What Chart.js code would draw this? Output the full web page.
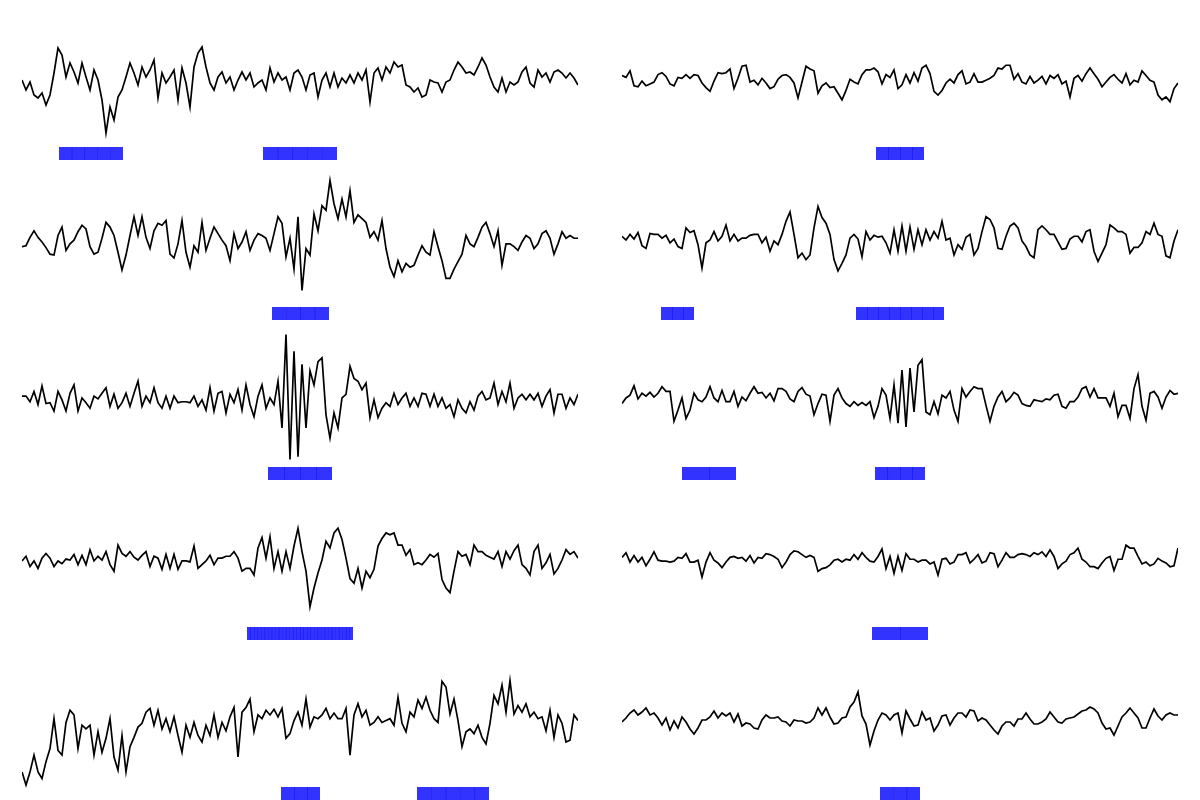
<!DOCTYPE html>
<html>
<head>
<meta charset="utf-8">
<script src="https://cdn.jsdelivr.net/npm/chart.js@4.4.1/dist/chart.umd.min.js"></script>
<style>
html,body{margin:0;padding:0;background:#ffffff;}
#wrap{position:relative;width:1200px;height:800px;background:#ffffff;}
#wrap canvas{position:absolute;}
</style>
</head>
<body>
<div id="wrap"></div>
<script>
// ---- signal traces (one value per sample) ----
const traceL1 = [0,-10,-2,-15,-18,-13,-25,-15,7,32, 25,3,17,8,-3,17,3,-10,10,0, -20,-53,-27,-40,-17,-10,3,17,7,-5, 13,3,10,20,-18,7,-3,3,10,-20, 12,-3,-27,13,27,33,13,-3,-10,3, 8,-3,3,-10,0,8,0,7,-7,-3, 0,-10,12,-2,7,0,3,-10,7,10,
  3,-10,5,7,-17,0,7,-7,7,-7, 2,-3,5,-3,7,0,10,-22,7,12, 0,13,7,18,13,15,-5,-7,-12,-8, -17,-15,0,-2,-3,-12,-2,0,10,18, 13,7,8,5,13,22,15,3,-7,-12, 2,-12,-2,-5,-2,8,13,-3,-7,10, 3,7,-2,8,10,7,2,7,2,-5];
const traceL2 = [-12,-11,-2,5,-2,-7,-13,-20,-21,0, 9,-16,-9,-5,4,11,7,-12,-20,-18, -3,14,9,0,-18,-37,-21,0,20,0, 20,-2,-14,5,13,11,16,-20,-24,-9, 16,-18,-34,-11,-18,14,-16,-3,9,2, -5,-11,-27,2,-14,-7,4,-16,-5,2, 0,-3,-16,2,20,13,-23,-3,-36,20, -59,-14,-21,23,5,32,27,59,34,18, 39,20,48,14,22,18,14,-2,4,-5, 16,-14,-34,-44,-27,-39,-30,-34,-32,-21, -11,-18,-21,4,-12,-27,-46,-46,-36,-28, -20,0,-9,-12,-2,9,14,2,-12,5, -32,-9,-9,-12,-16,-7,0,-3,-14,-9, 2,5,-3,-20,-9,4,-3,0,-3,-3];
const traceL3 = [-1,-1,-7,4,-10,10,-9,-8,-17,4, -5,-17,2,11,-17,-3,-8,-14,-1,-4, 2,8,-12,1,-14,-8,2,-12,2,15, -12,-1,-8,8,-8,-14,-1,-14,-1,-8, -7,-7,-8,-1,-12,-5,-16,8,-17,2, 4,-19,1,-8,6,-16,11,-10,-23,-1, 11,-14,-3,-10,15,-35,65,-69,47,-66, 33,-35,26,11,36,40,-21,-46,-19,-35, -3,1,31,18,15,6,13,-24,-5,-24, -14,-8,-12,2,-10,-3,2,-12,-3,-12, 2,1,-12,1,-12,-3,-14,-10,-23,-5, -14,-19,-7,-16,-1,4,-5,-3,13,-10, 4,-7,13,-14,-3,1,-5,1,-5,2, -12,-1,6,-19,1,1,-14,-3,-10,1];
const traceL4 = [-4,1,-10,-4,-12,-1,4,-1,-10,-4, -7,-2,-3,3,-8,2,-8,8,-4,1, -3,6,-8,-15,13,4,1,6,0,-3, 2,6,-10,1,-1,-13,3,-12,3,-13, -4,-4,-5,12,-12,-8,-4,2,-8,-1, -1,1,1,6,-1,-15,-12,-12,-19,10, 21,-1,22,-12,6,-15,6,-12,12,31, 6,-15,-53,-33,-17,-3,17,10,26,31, 19,-1,-23,-28,-12,-33,-15,-22,-13,12, 20,26,24,26,13,13,2,8,-8,-6, -8,-3,3,0,4,-24,-33,-38,-15,6, 1,3,-8,13,6,6,2,0,-2,6, -10,6,-2,7,13,-8,-12,-19,6,13, -12,-6,3,-18,-12,-3,8,3,6,-1];
const traceL5 = [-59,-73,-59,-41,-59,-66,-48,-34,-2,-36, -41,-6,7,2,-34,-9,-13,-9,-41,-16, -38,-23,-2,-43,-57,-20,-59,-32,-22,-11, -7,5,9,-9,7,-13,-2,-16,0,-20, -38,-9,-22,-6,-20,-27,-9,-20,2,-22, -6,-15,0,10,-43,5,10,19,-16,2, -2,7,2,8,0,9,-23,-18,-4,5, -9,19,-11,0,-2,2,9,-2,4,-2, -2,9,-41,2,14,0,7,-9,-6,0, -6,-4,-2,-9,21,-7,-16,5,0,18, 9,21,7,-2,-6,38,32,3,19,-4, -32,-16,-13,-18,-9,-22,-29,-7,23,14, 34,5,39,3,12,5,14,0,5,-2, 0,-15,7,-22,2,-7,-27,-25,2,-4];
const traceR1 = [3,1,8,-8,-9,-3,-8,-6,-4,4, 6,2,-6,-8,1,0,4,0,4,3, -5,-10,-14,-3,6,5,6,10,-11,0, 13,14,-4,-2,-7,0,-5,-11,-9,-1, 3,4,1,-5,-21,-4,13,10,8,-16, -8,-5,-10,-9,-16,-23,-13,-1,-4,-6, 4,9,9,11,7,-6,4,1,9,-11, -7,4,-5,6,-3,11,14,5,-14,-18, -13,-5,-1,-5,4,8,-6,-4,5,-4, -4,-2,0,3,11,10,14,14,-1,5, -4,-6,2,-5,-2,2,-6,3,0,4, -6,-3,-20,0,3,-3,5,11,5,-1, -9,-4,1,4,-1,-5,5,-7,-2,-4, 8,3,-2,-4,-18,-23,-20,-25,-11,-5];
const traceR2 = [1,-3,3,-2,5,-9,-12,4,3,3, -1,2,-6,-2,-10,-12,10,5,7,-8, -33,-6,-3,6,-4,1,13,-4,3,-4, -1,-1,2,3,3,-6,0,-15,-4,-8, 3,17,27,3,-22,-17,-24,-19,10,33, 21,15,3,-24,-36,-28,-19,-1,3,-2, -21,6,-3,2,0,1,-6,-17,8,-15, 12,-15,11,-13,8,-8,8,-3,6,-1, 17,-3,-1,-19,-8,-13,0,3,-19,-12, 6,22,19,10,-12,-13,1,12,15,10, -4,-10,-19,-22,8,12,8,3,3,-5, -13,-12,-2,1,1,-5,6,8,-15,-26, -17,-8,13,10,6,6,3,-17,-11,-11, -6,6,3,15,3,1,-20,-22,-4,8];
const traceR3 = [-7,-1,2,12,-2,4,1,5,0,4, 11,6,6,-26,-14,-1,-23,-14,4,-3, -5,0,11,-1,-5,7,-5,-5,6,-10, 0,-4,4,11,4,5,-1,4,-4,9, 9,6,-2,-5,6,10,3,1,-19,-7, 3,2,-26,2,9,-1,-7,-10,-5,-9, -6,-9,-5,-22,-10,9,2,-23,13,-28, 29,-32,31,-16,34,40,-16,-19,-5,-18, 2,-1,6,-14,-26,9,0,6,11,9, 9,-9,-26,-10,0,6,-5,-1,5,2, -7,-9,-10,-3,-4,-5,-2,-3,2,3, -10,-12,-5,-5,0,9,11,0,9,-1, -1,-1,-10,4,-21,-9,-9,-23,9,24, -10,-25,4,6,0,-12,0,7,3,4];
const traceR4 = [1,6,-4,3,-4,1,-8,-1,7,-2, -3,-3,-4,-3,1,0,5,-4,-4,-2, -20,-4,6,-2,-5,-10,-4,1,2,0, 1,-3,3,-5,1,0,5,4,2,-1, -10,-4,4,8,7,4,1,3,1,-14, -11,-10,-7,-2,-1,-4,-1,-2,4,-1, 6,1,-3,-4,2,10,-11,2,-16,2, -13,5,-1,-1,-4,-2,-2,-6,-4,-18, -1,0,-6,-4,4,4,6,-5,-1,4, -5,-3,6,5,-9,-2,6,1,1,4, 5,4,2,6,4,7,2,9,2,-11, -6,-3,4,6,11,-1,-4,-9,-9,-11, -5,0,2,-13,-1,-1,14,11,11,2, -6,-4,-8,-6,0,-3,-5,-9,-8,11];
const traceR5 = [-2,2,7,10,5,8,12,5,7,2, -5,2,-10,-1,-8,3,-2,-9,-14,-8, 0,0,3,9,2,7,4,7,-2,6, -6,-3,-4,-8,-9,0,5,2,2,3, -1,-2,-6,0,-1,-1,-3,-2,2,12, 5,12,3,-4,-3,2,3,13,18,28, 4,-4,-25,-11,0,7,5,0,5,7, -13,9,1,-6,-5,8,0,2,-11,-5, 4,5,-5,2,7,7,3,10,9,-1, 2,0,-5,-10,-14,-6,-2,-2,-6,1, 1,7,1,-4,-4,-2,1,8,3,-2, -3,1,2,3,6,9,10,13,11,7, -3,-9,-8,-15,-6,3,7,12,7,2, -8,-8,2,11,4,0,5,7,5,5];

// ---- annotated spans: [start sample, end sample, number of blocks] ----
const spansL1 = [[9.25,25.25,5],[60.25,78.75,5]];
const spansL2 = [[62.5,76.75,4]];
const spansL3 = [[61.5,77.5,4]];
const spansL4 = [[56.25,82.75,30]];
const spansL5 = [[64.75,74.5,3],[98.75,116.75,5]];
const spansR1 = [[63.5,75.5,4]];
const spansR2 = [[9.75,18,3],[58.5,80.5,8]];
const spansR3 = [[15,28.5,2],[63.25,75.75,4]];
const spansR4 = [[62.5,76.5,2]];
const spansR5 = [[64.5,74.5,3]];

// ---- per-panel value ranges (each panel autoscaled on its own) ----
const rangeL1 = [-80, 80];
const rangeL2 = [-90.6, 80.9];
const rangeL3 = [-90.9, 80.6];
const rangeL4 = [-88.7, 82.7];
const rangeL5 = [-89.1, 82.3];
const rangeR1 = [-87.5, 83.9];
const rangeR2 = [-88.7, 82.7];
const rangeR3 = [-88.9, 82.5];
const rangeR4 = [-87.5, 83.9];
const rangeR5 = [-80, 80];

const panels = [
  {trace: traceL1, spans: spansL1, range: rangeL1, col: 0, row: 0},
  {trace: traceR1, spans: spansR1, range: rangeR1, col: 1, row: 0},
  {trace: traceL2, spans: spansL2, range: rangeL2, col: 0, row: 1},
  {trace: traceR2, spans: spansR2, range: rangeR2, col: 1, row: 1},
  {trace: traceL3, spans: spansL3, range: rangeL3, col: 0, row: 2},
  {trace: traceR3, spans: spansR3, range: rangeR3, col: 1, row: 2},
  {trace: traceL4, spans: spansL4, range: rangeL4, col: 0, row: 3},
  {trace: traceR4, spans: spansR4, range: rangeR4, col: 1, row: 3},
  {trace: traceL5, spans: spansL5, range: rangeL5, col: 0, row: 4},
  {trace: traceR5, spans: spansR5, range: rangeR5, col: 1, row: 4}
];

const PANEL_W = 600, PANEL_H = 160, BAR_H = 13;
const wrap = document.getElementById('wrap');

function blocksOf(spans) {
  const out = [];
  spans.forEach(([s, e, n]) => {
    const w = (e - s) / n;
    for (let k = 0; k < n; k++) {
      const a = s + k * w;
      const b = a + w + (k < n - 1 ? 0.12 : 0);
      out.push({x: [a, b], y: BAR_H / 2});
    }
  });
  return out;
}

panels.forEach(p => {
  const cv = document.createElement('canvas');
  cv.width = PANEL_W; cv.height = PANEL_H;
  cv.style.left = (p.col * PANEL_W) + 'px';
  cv.style.top = (p.row * PANEL_H) + 'px';
  cv.style.width = PANEL_W + 'px';
  cv.style.height = PANEL_H + 'px';
  wrap.appendChild(cv);
  new Chart(cv, {
    type: 'line',
    data: {
      datasets: [
        {
          type: 'line',
          data: p.trace.map((v, i) => ({x: i, y: v})),
          borderColor: '#000000',
          borderWidth: 1.7,
          pointRadius: 0,
          tension: 0,
          fill: false,
          xAxisID: 'x', yAxisID: 'y',
          order: 0
        },
        {
          type: 'bar',
          indexAxis: 'y',
          data: blocksOf(p.spans),
          backgroundColor: 'rgba(0,0,255,0.8)',
          borderWidth: 0,
          inflateAmount: 0,
          barThickness: BAR_H,
          grouped: false,
          xAxisID: 'x', yAxisID: 'yb',
          order: 1
        }
      ]
    },
    options: {
      responsive: false,
      animation: false,
      events: [],
      layout: {padding: {left: 22, right: 22, top: 0, bottom: 0}},
      plugins: {legend: {display: false}, tooltip: {enabled: false}},
      scales: {
        x: {type: 'linear', min: 0, max: p.trace.length - 1, offset: false, display: false},
        y: {type: 'linear', axis: 'y', min: p.range[0], max: p.range[1], offset: false, display: false},
        yb: {type: 'linear', axis: 'y', min: 0, max: PANEL_H, offset: false, display: false}
      }
    }
  });
});
</script>
</body>
</html>
